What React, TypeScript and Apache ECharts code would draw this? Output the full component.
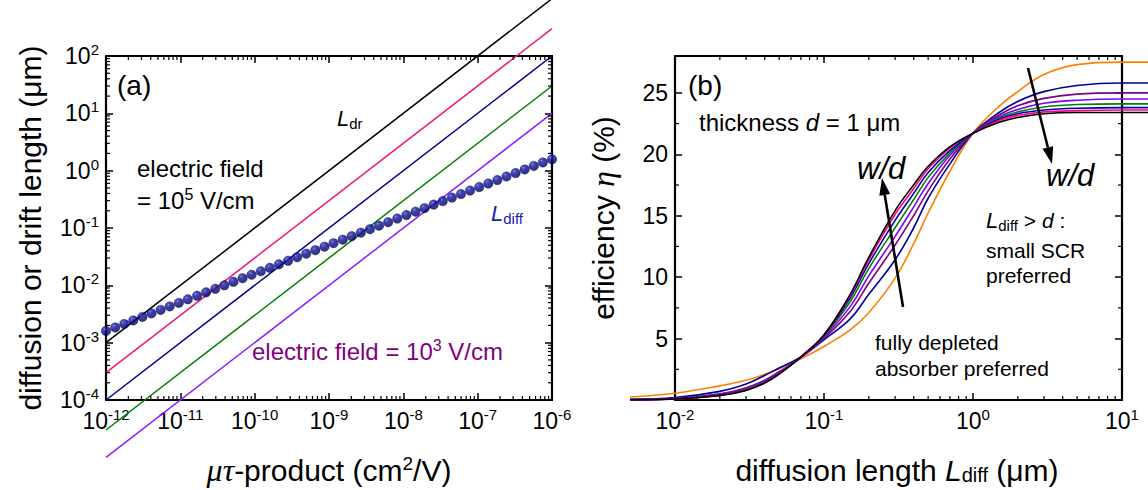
import React, { useEffect, useRef } from 'react';
import * as echarts from 'echarts';

const FONT = "'Liberation Sans', Arial, Helvetica, sans-serif";
const SERIF = "'Liberation Serif', 'DejaVu Serif', serif";

// ---------- Panel (a) ----------
const mtMin = 1e-12;
const mtMax = 1e-6;
const lenMin = 1e-4;
const lenMax = 1e2;
// drift length lines: value at mu*tau = 1e-12 and at 1e-6 (um)
const ldrStart = [1e-3, 3e-4, 1e-4, 3e-5, 1e-5];
const ldrEnd = [1e3, 300, 100, 30, 10];
const ldrColors = ['#000000', '#F0187A', '#000090', '#008000', '#8A1EFF'];

const mtProduct = [
  1.0e-12, 1.33e-12, 1.76e-12, 2.33e-12, 3.09e-12, 4.09e-12, 5.43e-12, 7.2e-12, 9.54e-12,
  1.26e-11, 1.68e-11, 2.22e-11, 2.95e-11, 3.91e-11, 5.18e-11, 6.87e-11, 9.1e-11,
  1.21e-10, 1.6e-10, 2.12e-10, 2.81e-10, 3.73e-10, 4.94e-10, 6.55e-10, 8.69e-10,
  1.15e-9, 1.53e-9, 2.02e-9, 2.68e-9, 3.56e-9, 4.71e-9, 6.25e-9, 8.29e-9,
  1.1e-8, 1.46e-8, 1.93e-8, 2.56e-8, 3.39e-8, 4.5e-8, 5.96e-8, 7.91e-8,
  1.05e-7, 1.39e-7, 1.84e-7, 2.44e-7, 3.24e-7, 4.29e-7, 5.69e-7, 7.54e-7, 1.0e-6,
];
const lDiff = [
  0.0016, 0.00184, 0.00212, 0.00244, 0.00281, 0.00324, 0.00373, 0.00429, 0.00494,
  0.00569, 0.00655, 0.00754, 0.00869, 0.01, 0.0115, 0.0133, 0.0153,
  0.0176, 0.0202, 0.0233, 0.0268, 0.0309, 0.0356, 0.041, 0.0472,
  0.0543, 0.0625, 0.072, 0.0829, 0.0954, 0.11, 0.126, 0.146,
  0.168, 0.193, 0.222, 0.256, 0.295, 0.339, 0.391, 0.45,
  0.518, 0.596, 0.687, 0.791, 0.91, 1.05, 1.21, 1.39, 1.58,
];

// ---------- Panel (b) ----------
const diffMin = 0.01;
const diffMax = 10;
const curveMin = 0.005;
const curveMax = 15;
const effMax = 28;
const diffLen = [0.005, 0.01, 0.02, 0.03, 0.04, 0.05, 0.07, 0.1, 0.15, 0.2, 0.3, 0.4, 0.5, 0.7, 1, 1.5, 2, 3, 5, 10, 15];
const effOrange = [0.25, 0.55, 1.15, 1.6, 2.1, 2.55, 3.35, 4.35, 5.7, 7.1, 9.9, 12.7, 15.2, 18.6, 21.7, 23.9, 25.1, 26.5, 27.3, 27.5, 27.5];
const effNavy = [0.06, 0.2, 0.7, 1.3, 2.0, 2.6, 3.5, 4.9, 6.6, 8.6, 11.4, 14.0, 16.4, 19.2, 21.7, 23.4, 24.3, 25.1, 25.6, 25.8, 25.8];
const effPurple = [0.03, 0.12, 0.5, 1.0, 1.6, 2.3, 3.45, 5.0, 7.2, 9.5, 12.6, 15.0, 17.0, 19.6, 21.7, 23.2, 23.95, 24.55, 24.9, 25.0, 25.0];
const effViolet = [0.03, 0.11, 0.45, 0.9, 1.5, 2.2, 3.45, 5.1, 7.6, 10.1, 13.3, 15.7, 17.6, 19.9, 21.7, 23.05, 23.65, 24.15, 24.4, 24.5, 24.5];
const effGreen = [0.02, 0.1, 0.42, 0.85, 1.45, 2.15, 3.5, 5.2, 8.0, 10.7, 14.0, 16.3, 18.1, 20.1, 21.7, 22.95, 23.45, 23.85, 24.05, 24.1, 24.1];
const effBlue = [0.02, 0.09, 0.4, 0.82, 1.42, 2.12, 3.5, 5.25, 8.3, 11.1, 14.6, 16.8, 18.5, 20.3, 21.7, 22.85, 23.3, 23.6, 23.75, 23.8, 23.8];
const effPink = [0.02, 0.08, 0.38, 0.8, 1.4, 2.1, 3.5, 5.3, 8.5, 11.4, 15.1, 17.2, 18.8, 20.5, 21.7, 22.75, 23.15, 23.45, 23.55, 23.6, 23.6];
const effBlack = [0.02, 0.08, 0.36, 0.78, 1.38, 2.1, 3.5, 5.3, 8.6, 11.6, 15.4, 17.5, 19.0, 20.6, 21.7, 22.6, 23.0, 23.3, 23.4, 23.4, 23.4];
const effSeries = [effOrange, effNavy, effPurple, effViolet, effGreen, effBlue, effPink, effBlack];
const effColors = ['#FF8000', '#000099', '#800080', '#8000FF', '#008000', '#0000B0', '#FF0080', '#000000'];

const effMajor = [5, 10, 15, 20, 25];
const effMinor = [2.5, 7.5, 12.5, 17.5, 22.5];
const minorMult = [2, 3, 4, 5, 6, 7, 8, 9];

function logMinors(minExp: number, maxExp: number) {
  const out: number[] = [];
  for (let e = minExp; e < maxExp; e++) for (const m of minorMult) out.push(m * Math.pow(10, e));
  return out;
}

// layout of panel (b) frame (px)
const bLeft = 675;
const bWidth = 447;
const bDecade = bWidth / Math.log10(diffMax / diffMin);

const AX = '#000';
const tickRich = {
  b: { fontSize: 23, fontFamily: FONT, color: AX, lineHeight: 28 },
  s: { fontSize: 15, fontFamily: FONT, color: AX, lineHeight: 16, verticalAlign: 'top' },
};
const logLabel = (v: number) => `{b|10}{s|${Math.round(Math.log10(v))}}`;

function axisBase(extra: any) {
  return {
    axisLine: { show: true, onZero: false, lineStyle: { color: AX, width: 2.2 } },
    axisTick: { show: true, inside: true, length: 7, lineStyle: { color: AX, width: 1.5 } },
    splitLine: { show: false },
    minorTick: { show: false },
    ...extra,
  };
}

function minorTickSeries(xi: number, yi: number, dim: 'x' | 'y', values: number[], other: number) {
  return {
    type: 'custom',
    xAxisIndex: xi,
    yAxisIndex: yi,
    silent: true,
    clip: false,
    z: 5,
    data: values.map((v) => (dim === 'x' ? [v, other] : [other, v])),
    renderItem: (params: any, api: any) => {
      const cs = params.coordSys;
      const p = api.coord([api.value(0), api.value(1)]);
      const len = 4;
      const style = { stroke: '#000', lineWidth: 1.2 };
      if (dim === 'x') {
        const b = cs.y + cs.height;
        const t = cs.y;
        return {
          type: 'group',
          children: [
            { type: 'line', shape: { x1: p[0], y1: b, x2: p[0], y2: b - len }, style },
            { type: 'line', shape: { x1: p[0], y1: t, x2: p[0], y2: t + len }, style },
          ],
        };
      }
      const l = cs.x;
      const r = cs.x + cs.width;
      return {
        type: 'group',
        children: [
          { type: 'line', shape: { x1: l, y1: p[1], x2: l + len, y2: p[1] }, style },
          { type: 'line', shape: { x1: r, y1: p[1], x2: r - len, y2: p[1] }, style },
        ],
      };
    },
  };
}

const rs = (size: number, extra: any = {}) => ({
  fontSize: size,
  fontFamily: FONT,
  fill: '#000',
  color: '#000',
  ...extra,
});

function txt(x: number, y: number, text: string, rich: any, extra: any = {}) {
  return {
    type: 'text',
    x,
    y,
    silent: true,
    z: 100,
    ...extra,
    style: {
      text,
      rich,
      fontSize: 22,
      fontFamily: FONT,
      fill: '#000',
      align: 'left',
      verticalAlign: 'middle',
      ...(extra.style || {}),
    },
  };
}

function arrow(x1: number, y1: number, x2: number, y2: number) {
  const dx = x2 - x1;
  const dy = y2 - y1;
  const L = Math.sqrt(dx * dx + dy * dy);
  const ux = dx / L;
  const uy = dy / L;
  const hl = 17;
  const hw = 5.5;
  const bx = x2 - ux * hl;
  const by = y2 - uy * hl;
  const px = -uy;
  const py = ux;
  return [
    { type: 'line', silent: true, z: 100, shape: { x1, y1, x2: bx, y2: by }, style: { stroke: '#000', lineWidth: 2.6 } },
    {
      type: 'polygon',
      silent: true,
      z: 100,
      shape: { points: [[x2, y2], [bx + px * hw, by + py * hw], [bx - px * hw, by - py * hw]] },
      style: { fill: '#000' },
    },
  ];
}

function buildOption() {
  const sphere = new echarts.graphic.RadialGradient(0.35, 0.3, 0.75, [
    { offset: 0, color: '#a0a0ff' },
    { offset: 0.12, color: '#3030b8' },
    { offset: 0.45, color: '#0a0a90' },
    { offset: 1, color: '#000050' },
  ]);

  const nameN = 30;
  const titleRich = {
    n: rs(nameN),
    i: rs(nameN, { fontStyle: 'italic' }),
    g: rs(nameN + 2, { fontStyle: 'italic', fontFamily: SERIF }),
    s: rs(19, { verticalAlign: 'top', lineHeight: 20 }),
    sub: rs(20, { verticalAlign: 'bottom', lineHeight: 20 }),
  };
  const annRich = {
    n: rs(24, { lineHeight: 28 }),
    i: rs(24, { fontStyle: 'italic', lineHeight: 28 }),
    s: rs(16, { verticalAlign: 'top', lineHeight: 16 }),
  };
  const annRich21 = {
    n: rs(21, { lineHeight: 26 }),
    i: rs(21, { fontStyle: 'italic', lineHeight: 26 }),
    L: rs(22, { fontStyle: 'italic', lineHeight: 26 }),
    sub: rs(15, { verticalAlign: 'bottom', lineHeight: 16 }),
  };

  const series: any[] = [];
  ldrStart.forEach((s, i) => {
    series.push({
      type: 'line',
      xAxisIndex: 0,
      yAxisIndex: 0,
      data: [
        [mtMin, s],
        [mtMax, ldrEnd[i]],
      ],
      showSymbol: false,
      clip: false,
      silent: true,
      lineStyle: { color: ldrColors[i], width: 1.5 },
      z: 3,
    });
  });
  series.push({
    type: 'scatter',
    xAxisIndex: 0,
    yAxisIndex: 0,
    data: mtProduct.map((m, i) => [m, lDiff[i]]),
    symbol: 'circle',
    symbolSize: 9.5,
    clip: false,
    silent: true,
    itemStyle: { color: sphere, borderColor: '#00004a', borderWidth: 0.4 },
    z: 4,
  });
  effSeries.forEach((arr, i) => {
    series.push({
      type: 'line',
      xAxisIndex: 4,
      yAxisIndex: 4,
      data: diffLen.map((d, j) => [d, arr[j]]),
      showSymbol: false,
      smooth: 0.4,
      clip: false,
      silent: true,
      lineStyle: { color: effColors[i], width: 1.6 },
      z: 3,
    });
  });
  series.push(minorTickSeries(0, 0, 'x', logMinors(-12, -6), 1));
  series.push(minorTickSeries(0, 0, 'y', logMinors(-4, 2), 1e-9));
  series.push(minorTickSeries(2, 2, 'x', logMinors(-2, 1), 10));
  series.push(minorTickSeries(2, 2, 'y', effMinor, 1));

  // wider hidden grid on which the curves of panel (b) run beyond the frame
  const cLeft = bLeft - bDecade * Math.log10(diffMin / curveMin);
  const cWidth = bDecade * Math.log10(curveMax / curveMin);

  return {
    animation: false,
    backgroundColor: '#ffffff',
    grid: [
      { left: 106, top: 56, width: 446, height: 344 },
      { left: bLeft, top: 56, width: bWidth, height: 344 },
      { left: cLeft, top: 56, width: cWidth, height: 344 },
    ],
    xAxis: [
      axisBase({
        type: 'log', gridIndex: 0, min: mtMin, max: mtMax, splitNumber: 6, position: 'bottom',
        axisLabel: { formatter: logLabel, rich: tickRich, margin: 7, interval: 0 },
      }),
      axisBase({
        type: 'log', gridIndex: 0, min: mtMin, max: mtMax, splitNumber: 6, position: 'top',
        axisLabel: { show: false },
      }),
      axisBase({
        type: 'log', gridIndex: 1, min: diffMin, max: diffMax, splitNumber: 3, position: 'bottom',
        axisLabel: { formatter: logLabel, rich: tickRich, margin: 7, interval: 0 },
      }),
      axisBase({
        type: 'log', gridIndex: 1, min: diffMin, max: diffMax, splitNumber: 3, position: 'top',
        axisLabel: { show: false },
      }),
      { type: 'log', gridIndex: 2, min: curveMin, max: curveMax, show: false },
    ],
    yAxis: [
      axisBase({
        type: 'log', gridIndex: 0, min: lenMin, max: lenMax, splitNumber: 6, position: 'left',
        axisLabel: { formatter: logLabel, rich: tickRich, margin: 7, interval: 0 },
      }),
      axisBase({
        type: 'log', gridIndex: 0, min: lenMin, max: lenMax, splitNumber: 6, position: 'right',
        axisLabel: { show: false },
      }),
      axisBase({
        type: 'value', gridIndex: 1, min: 0, max: effMax, interval: 5, position: 'left',
        axisLabel: {
          formatter: (v: number) => (effMajor.indexOf(v) >= 0 ? String(v) : ''),
          fontSize: 23, fontFamily: FONT, color: AX, margin: 7,
        },
      }),
      axisBase({
        type: 'value', gridIndex: 1, min: 0, max: effMax, interval: 5, position: 'right',
        axisLabel: { show: false },
      }),
      { type: 'value', gridIndex: 2, min: 0, max: effMax, show: false },
    ],
    series,
    graphic: {
      elements: [
        // axis titles
        txt(30, 228, '{n|diffusion or drift length (μm)}', titleRich, { rotation: Math.PI / 2, style: { align: 'center' } }),
        txt(329, 470, '{g|μτ}{n|-product (cm}{s|2}{n|/V)}', titleRich, { style: { align: 'center' } }),
        txt(603, 218, '{n|efficiency }{g|η}{n| (%)}', titleRich, { rotation: Math.PI / 2, style: { align: 'center' } }),
        txt(897, 470, '{n|diffusion length }{i|L}{sub|diff}{n| (μm)}', titleRich, { style: { align: 'center' } }),
        // panel (a)
        txt(117, 85, '{n|(a)}', { n: rs(28) }),
        txt(337, 118, '{L|L}{sub|dr}', annRich21),
        txt(137, 168, '{n|electric field}', annRich),
        txt(137, 200, '{n|= 10}{s|5}{n| V/cm}', annRich),
        txt(491, 213, '{L|L}{sub|diff}', {
          L: rs(22, { fontStyle: 'italic', lineHeight: 26, fill: '#1C1CA8', color: '#1C1CA8' }),
          sub: rs(15, { verticalAlign: 'bottom', lineHeight: 16, fill: '#1C1CA8', color: '#1C1CA8' }),
        }),
        txt(252, 351, '{n|electric field = 10}{s|3}{n| V/cm}', {
          n: rs(24, { lineHeight: 28, fill: '#800080', color: '#800080' }),
          s: rs(16, { verticalAlign: 'top', lineHeight: 16, fill: '#800080', color: '#800080' }),
        }),
        // panel (b)
        txt(688, 85, '{n|(b)}', { n: rs(28) }),
        txt(699, 122, '{n|thickness }{i|d}{n| = 1 μm}', annRich),
        txt(857, 168, '{w|w/d}', { w: rs(31, { fontStyle: 'italic' }) }),
        txt(1046, 175, '{w|w/d}', { w: rs(31, { fontStyle: 'italic' }) }),
        txt(986, 220, '{L|L}{sub|diff}{n| > }{i|d}{n| :}', annRich21),
        txt(986, 250, '{n|small SCR}', annRich21),
        txt(986, 275, '{n|preferred}', annRich21),
        txt(875, 342, '{n|fully depleted}', annRich21),
        txt(875, 368, '{n|absorber preferred}', annRich21),
        ...arrow(903, 307, 882, 178),
        ...arrow(1028, 68, 1052, 164),
      ],
    },
  };
}

export default function App() {
  const ref = useRef<HTMLDivElement>(null);
  useEffect(() => {
    document.body.style.margin = '0';
    const chart = echarts.init(ref.current as HTMLDivElement, undefined, { renderer: 'svg' });
    chart.setOption(buildOption() as any);
    return () => chart.dispose();
  }, []);
  return <div ref={ref} style={{ width: 1148, height: 490 }} />;
}
